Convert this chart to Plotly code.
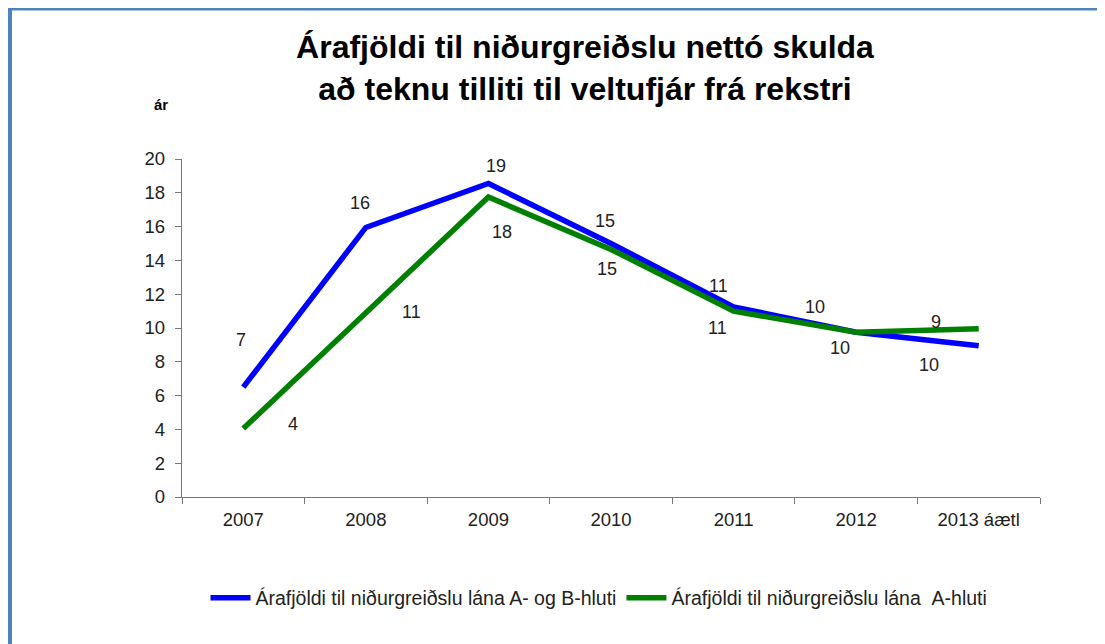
import plotly.graph_objects as go

# data
years = ["2007", "2008", "2009", "2010", "2011", "2012", "2013 áætl"]
ab_hluti = [6.5, 15.95, 18.55, 15.0, 11.25, 9.75, 8.95]
a_hluti = [4.05, 10.9, 17.75, 14.65, 11.0, 9.75, 9.95]
ab_name = "Árafjöldi til niðurgreiðslu lána A- og B-hluti"
a_name = "Árafjöldi til niðurgreiðslu lána \u00a0A-hluti"

# label offsets in px (as placed in the original)
ab_shift = [(-2, 47), (-6, 24), (8, 18), (-6, 23), (-15, 21), (-41, 25), (-43, 24)]
a_shift = [(50, 5), (46, 1), (14, -35), (-4, -20), (-16, -17), (-16, -16), (-50, -36)]

FONT = "Liberation Sans, Arial, sans-serif"
BORDER = "#4F81BD"
W, H = 1105, 644
L, R, T, B = 174, 1032, 151, 489  # plot area in figure px


def px(x, y):
    # figure pixel -> paper coords
    return (x - L) / (R - L), (B - y) / (B - T)


fig = go.Figure()
fig.add_trace(go.Scatter(x=years, y=ab_hluti, name=ab_name, mode="lines",
                         line=dict(color="#0000FF", width=5.5)))
fig.add_trace(go.Scatter(x=years, y=a_hluti, name=a_name, mode="lines",
                         line=dict(color="#008000", width=5.5)))

for vals, shifts in ((ab_hluti, ab_shift), (a_hluti, a_shift)):
    for i, (v, (dx, dy)) in enumerate(zip(vals, shifts)):
        fig.add_annotation(x=i, y=v, text=str(int(v + 0.5)), showarrow=False,
                           xshift=dx, yshift=dy, font=dict(size=18, color="#222"))

# "ár" unit label
ax, ay = px(144, 86)
fig.add_annotation(x=ax, y=ay, xref="paper", yref="paper", text="<b>ár</b>",
                   showarrow=False, font=dict(size=15, color="#000"))

# frame lines of the original image
x0, y0 = px(2, 0)
x1, y1 = px(2, H)
fig.add_shape(type="line", xref="paper", yref="paper", x0=x0, x1=x1, y0=y0, y1=y1,
              line=dict(color=BORDER, width=4))
x0, y0 = px(0, 1)
x1, _ = px(W, 1)
fig.add_shape(type="line", xref="paper", yref="paper", x0=x0, x1=x1, y0=y0, y1=y0,
              line=dict(color=BORDER, width=3))

fig.update_layout(
    width=W, height=H,
    margin=dict(l=L, r=W - R, t=T, b=H - B),
    paper_bgcolor="white", plot_bgcolor="white",
    font=dict(family=FONT, size=18, color="#222"),
    title=dict(text="<b>Árafjöldi til niðurgreiðslu nettó skulda<br>að teknu tilliti til veltufjár frá rekstri</b>",
               x=577 / W, xanchor="center", y=1 - 50 / H, yanchor="middle",
               font=dict(size=32, color="#000", family=FONT)),
    showlegend=True,
    legend=dict(orientation="h", x=591 / W, xanchor="center", xref="container",
                y=1 - 590 / H, yanchor="middle", yref="container",
                font=dict(size=19.5, color="#222"), itemwidth=40),
)
fig.update_xaxes(type="category", range=[-0.5, 6.5], showline=True, linecolor="#777",
                 linewidth=1.3, ticks="outside", ticklen=6, tickcolor="#777",
                 tickson="boundaries", showgrid=False, zeroline=False,
                 ticklabelstandoff=6, tickfont=dict(size=18.5))
fig.update_yaxes(range=[0, 20], dtick=2, showline=True, linecolor="#777", linewidth=1.3,
                 ticks="outside", ticklen=6, tickcolor="#777", showgrid=False,
                 zeroline=False, ticklabelstandoff=6, tickfont=dict(size=18.5))

fig.write_html("out.html")
